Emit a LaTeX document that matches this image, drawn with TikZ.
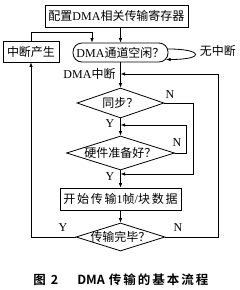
\documentclass[tikz,border=0pt]{standalone}
\usepackage{fontspec}
\setmainfont{Liberation Serif}
\newfontfamily\cjk{Noto Sans CJK SC}
\newfontfamily\cjkwide{Noto Sans CJK SC}[LetterSpace=15]
\newfontfamily\capfont{Noto Sans CJK SC Bold}
\newfontfamily\capwide{Noto Sans CJK SC Bold}[LetterSpace=16]
\usetikzlibrary{arrows.meta,shapes.geometric,calc}
\newcommand{\zh}[1]{{\cjk #1}}

\begin{document}
\begin{tikzpicture}[x=1pt,y=-1pt,>={Latex[length=4.5pt,width=3.5pt]},
    line width=0.8pt,line cap=round,
    font=\fontsize{12}{13}\selectfont,
    box/.style={draw,rectangle,inner sep=0pt},
    capsule/.style={draw,rectangle,rounded corners=9pt,inner sep=0pt},
    choice/.style={draw,diamond,aspect=3,inner sep=-2pt},
    tag/.style={inner sep=0pt}]
  \useasboundingbox (0,0) rectangle (240,290);

  % blocks
  \node[box,minimum width=143pt,minimum height=22pt] (cfg) at (116.5,16)
       {\zh{配置}DMA\zh{相关传输寄存器}};
  \node[box,minimum width=56pt,minimum height=21pt] (irq) at (31,51.5)
       {\zh{中断产生}};
  \node[capsule,minimum width=95pt,minimum height=19pt] (idle) at (120.5,52.5)
       {DMA\zh{通道空闲？}};
  \node[choice,minimum width=87pt,minimum height=30pt] (sync) at (120.5,103)
       {\zh{同步？}};
  \node[choice,minimum width=108pt,minimum height=34pt] (hw) at (120.5,153)
       {\zh{硬件准备好？}};
  \node[box,minimum width=121pt,minimum height=22pt] (xfer) at (120.5,199)
       {{\cjkwide 开始传输}1{\cjkwide 帧}/{\cjkwide 块数据}};
  \node[choice,minimum width=89pt,minimum height=28pt] (done) at (120.5,237)
       {\zh{传输完毕？}};

  % bends
  \coordinate (j1) at (92,32);
  \coordinate (c1) at (186,125);
  \coordinate (c2) at (193,174);
  \coordinate (c3) at (218,74);

  % flow
  \draw[->] (cfg.south -| idle.north) -- (idle.north);
  \draw[->] (irq.north) |- (j1) -- (j1 |- idle.north);
  \draw[->] ($(idle.east)+(0,-3.5)$) .. controls (203,49) and (206,59.5) .. (166,59.5);
  \draw[->] (idle.south) -- (sync.north);
  \draw[->] (sync.south) -- (hw.north);
  \draw[->] (hw.south) -- (xfer.north);
  \draw[->] (xfer.south) -- (done.north);
  \draw[->] (sync.east) -| (c2) -- (c2 -| sync.south);
  \draw[->] (hw.east) -| (c1) -- (c1 -| hw.north);
  \draw[->] (done.east) -| (c3) -- (c3 -| idle.south);
  \draw[->] (done.west) -| (irq.south);

  % labels
  \node[tag] (nofire) at (218,51) {\zh{无中断}};
  \node[tag] (fire) at (89.5,74) {DMA\zh{中断}};
  \node[tag] (syncN) at (170,95) {N};
  \node[tag] (syncY) at (110,124) {Y};
  \node[tag] (hwN) at (177,143) {N};
  \node[tag] (hwY) at (110,177) {Y};
  \node[tag] (doneY) at (63,228) {Y};
  \node[tag] (doneN) at (178,228) {N};

  \node[tag,anchor=west,font=\fontsize{12.5}{14}\selectfont] (caption) at (33,280)
       {\capfont 图\hspace{5pt}2\hspace{19pt}DMA\hspace{4pt}{\capwide 传输的基本流程}};
\end{tikzpicture}
\end{document}
